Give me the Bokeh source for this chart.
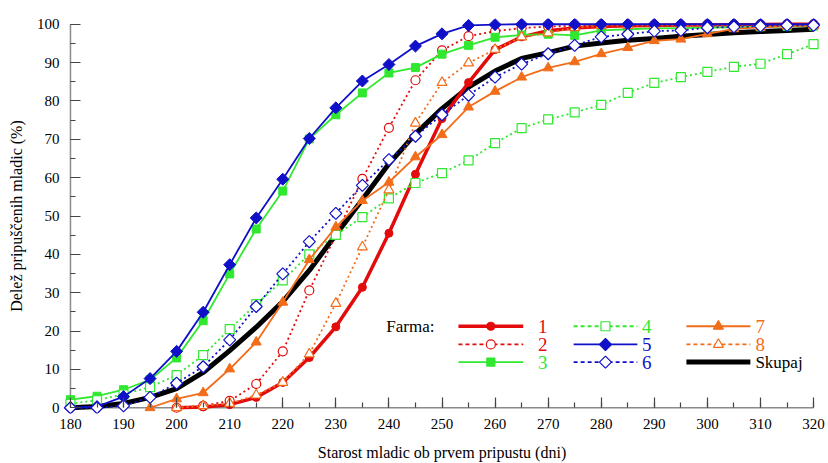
import math
from bokeh.plotting import figure
from bokeh.models import Range1d, FixedTicker, Label
from bokeh.embed import file_html
from bokeh.resources import INLINE

nan = float("nan")

days = [180, 185, 190, 195, 200, 205, 210, 215, 220, 225, 230, 235, 240, 245, 250,
        255, 260, 265, 270, 275, 280, 285, 290, 295, 300, 305, 310, 315, 320]

farm1 = [nan, nan, nan, nan, 0.0, 0.2, 0.8, 2.7, 6.6, 13.1, 21.1, 31.4, 45.5, 60.9, 75.4,
         84.8, 93.4, 96.7, 98.3, 99.0, 99.4, 99.6, 99.7, 99.8, 99.8, 99.9, 99.9, 100.0, 100.0]
farm2 = [nan, nan, nan, nan, 0.0, 0.5, 1.8, 6.2, 14.7, 30.6, 45.0, 59.7, 73.0, 85.4, 93.2,
         96.9, 98.2, 99.0, 99.4, 99.6, 99.7, 99.8, 99.8, 99.8, 99.9, 99.9, 99.9, 100.0, 100.0]
farm3 = [2.1, 3.0, 4.7, 7.3, 13.0, 22.7, 34.9, 46.6, 56.5, 70.1, 76.4, 82.1, 87.3, 88.7, 92.2,
         94.5, 96.6, 97.2, 97.4, 97.1, 98.4, 98.7, 98.9, 99.0, 99.1, 99.2, 99.3, 99.4, 99.5]
farm4 = [1.0, 2.0, 3.5, 5.4, 8.5, 13.7, 20.5, 27.0, 33.2, 40.0, 45.1, 49.7, 54.6, 58.6, 61.2,
         64.5, 69.0, 72.9, 75.2, 77.0, 79.0, 82.1, 84.7, 86.2, 87.6, 88.9, 89.7, 92.2, 94.8]
farm5 = [0.0, 0.3, 2.9, 7.6, 14.7, 24.9, 37.3, 49.5, 59.6, 70.2, 78.2, 85.2, 89.5, 94.3, 97.5,
         99.7, 99.9, 100.0, 100.0, 100.0, 100.0, 100.0, 100.0, 100.0, 100.0, 100.0, 100.0, 100.0, 100.0]
farm6 = [0.0, 0.0, 0.5, 2.7, 6.4, 10.7, 17.7, 26.4, 34.9, 43.3, 50.7, 58.0, 64.7, 70.8, 76.4,
         81.5, 86.2, 89.6, 92.3, 94.5, 96.7, 97.4, 98.2, 98.4, 99.1, 99.3, 99.5, 99.7, 99.7]
farm7 = [nan, nan, nan, 0.0, 2.3, 3.9, 10.1, 17.1, 27.5, 38.6, 47.1, 54.0, 58.8, 65.4, 71.2,
         78.4, 82.5, 86.2, 88.6, 90.2, 92.3, 93.9, 95.7, 96.1, 97.5, 98.8, 99.2, 99.5, 99.6]
farm8 = [nan, nan, nan, nan, 0.0, 0.5, 1.1, 3.3, 6.6, 14.0, 27.2, 41.9, 56.8, 74.2, 84.8,
         89.9, 93.4, 96.7, 97.7, 99.1, 99.7, 99.7, 99.7, 99.7, 99.8, 99.8, 99.8, 99.8, 99.8]
skupaj = [0.0, 0.3, 1.1, 2.7, 5.0, 9.2, 14.9, 21.0, 27.7, 35.8, 45.1, 54.3, 63.6, 71.4, 78.0,
          83.6, 87.8, 91.1, 92.6, 94.3, 95.1, 95.8, 96.3, 96.9, 97.3, 97.8, 98.1, 98.4, 98.7]

x_ticks = [180, 190, 200, 210, 220, 230, 240, 250, 260, 270, 280, 290, 300, 310, 320]
y_ticks = [0, 10, 20, 30, 40, 50, 60, 70, 80, 90, 100]
x_minor = days
y_minor = [0, 5, 10, 15, 20, 25, 30, 35, 40, 45, 50, 55, 60, 65, 70, 75, 80, 85, 90, 95, 100]

RED = "#e30b0b"
GREEN = "#2fe82f"
BLUE = "#1010c8"
ORANGE = "#f26d1a"
AXIS_GRAY = "#8a8a8a"
FONT = "Liberation Serif"
DIAMOND_ANGLE = math.pi / 4

p = figure(width=828, height=463, output_backend="svg", toolbar_location=None,
           x_range=Range1d(178.5, 321.5), y_range=Range1d(-1.5, 101.5),
           min_border_left=62, min_border_right=7, min_border_top=18, min_border_bottom=50)
p.outline_line_color = None
p.grid.visible = False
p.background_fill_color = "white"
p.border_fill_color = "white"

# Axes: lines drawn at the data origin, ticks shifted in from the padded frame edge
for ax in (p.xaxis[0], p.yaxis[0]):
    ax.axis_line_color = None
    ax.major_tick_line_color = "#444444"
    ax.minor_tick_line_color = "#444444"
    ax.major_tick_line_width = 1.2
    ax.minor_tick_line_width = 1.2
    ax.major_label_text_font = FONT
    ax.major_label_text_font_size = "15px"
    ax.major_label_text_color = "black"
    ax.axis_label_text_font = FONT
    ax.axis_label_text_font_size = "16px"
    ax.axis_label_text_font_style = "normal"
    ax.axis_label_text_color = "black"

p.xaxis.ticker = FixedTicker(ticks=x_ticks, minor_ticks=x_minor)
p.yaxis.ticker = FixedTicker(ticks=y_ticks, minor_ticks=y_minor)
p.xaxis.major_tick_in = 16
p.xaxis.major_tick_out = -6
p.xaxis.minor_tick_in = 11
p.xaxis.minor_tick_out = -6
p.yaxis.major_tick_in = 18
p.yaxis.major_tick_out = -8
p.yaxis.minor_tick_in = 13
p.yaxis.minor_tick_out = -8
p.xaxis.major_label_standoff = 11
p.yaxis.major_label_standoff = 11
p.xaxis.axis_label = "Starost mladic ob prvem pripustu (dni)"
p.yaxis.axis_label = "Delež pripuščenih mladic (%)"
p.xaxis.axis_label_standoff = 12
p.yaxis.axis_label_standoff = 9

p.line([x_ticks[0], x_ticks[-1]], [y_ticks[0], y_ticks[0]], line_color=AXIS_GRAY, line_width=1.5)
p.line([x_ticks[0], x_ticks[0]], [y_ticks[0], y_ticks[-1]], line_color=AXIS_GRAY, line_width=1.5)

DOT = "2 3"

# Skupaj
p.line(days, skupaj, line_color="black", line_width=5)
# Farm 1
p.line(days, farm1, line_color=RED, line_width=3.5)
p.scatter(days, farm1, marker="circle", size=8, fill_color=RED, line_color=RED)
# Farm 2
p.line(days, farm2, line_color=RED, line_width=1.8, line_dash=DOT)
p.scatter(days, farm2, marker="circle", size=9, fill_color="white", line_color=RED, line_width=1.2)
# Farm 3
p.line(days, farm3, line_color=GREEN, line_width=1.8)
p.scatter(days, farm3, marker="square", size=8, fill_color=GREEN, line_color=GREEN)
# Farm 4
p.line(days, farm4, line_color=GREEN, line_width=1.8, line_dash=DOT)
p.scatter(days, farm4, marker="square", size=9, fill_color="white", line_color=GREEN, line_width=1.2)
# Farm 7
p.line(days, farm7, line_color=ORANGE, line_width=1.8)
p.scatter(days, farm7, marker="triangle", size=10, fill_color=ORANGE, line_color=ORANGE)
# Farm 8
p.line(days, farm8, line_color=ORANGE, line_width=1.8, line_dash=DOT)
p.scatter(days, farm8, marker="triangle", size=10, fill_color="white", line_color=ORANGE, line_width=1.2)
# Farm 5
p.line(days, farm5, line_color=BLUE, line_width=1.8)
p.scatter(days, farm5, marker="square", angle=DIAMOND_ANGLE, size=8.5, fill_color=BLUE, line_color=BLUE)
# Farm 6
p.line(days, farm6, line_color=BLUE, line_width=1.8, line_dash=DOT)
p.scatter(days, farm6, marker="square", angle=DIAMOND_ANGLE, size=8.5, fill_color="white",
          line_color=BLUE, line_width=1.2)

# Legend (manual, three columns with coloured labels)
leg_rows = [21.25, 16.5, 11.9]
leg_cols = [(253.1, 265.3, 268.1), (274.8, 286.8, 287.7), (296.05, 308.1, 309.05)]
leg_items = [
    ("1", RED, 3.5, None, "circle", 0, RED, 8),
    ("2", RED, 1.8, "4 3", "circle", 0, "white", 9),
    ("3", GREEN, 1.8, None, "square", 0, GREEN, 8),
    ("4", GREEN, 1.8, "4 3", "square", 0, "white", 9),
    ("5", BLUE, 1.8, None, "square", DIAMOND_ANGLE, BLUE, 8.5),
    ("6", BLUE, 1.8, "4 3", "square", DIAMOND_ANGLE, "white", 8.5),
    ("7", ORANGE, 1.8, None, "triangle", 0, ORANGE, 10),
    ("8", ORANGE, 1.8, "4 3", "triangle", 0, "white", 10),
    ("Skupaj", "black", 5, None, None, 0, None, 0),
]
for i, (lab, col, lw, dash, mk, ang, fill, sz) in enumerate(leg_items):
    c = i // 3
    r = i % 3
    x0, x1, xt = leg_cols[c]
    y = leg_rows[r]
    kw = {}
    if dash:
        kw["line_dash"] = dash
    p.line([x0, x1], [y, y], line_color=col, line_width=lw, **kw)
    if mk:
        p.scatter([(x0 + x1) / 2], [y], marker=mk, angle=ang, size=sz, fill_color=fill,
                  line_color=col, line_width=1.2)
    is_num = lab != "Skupaj"
    p.add_layout(Label(x=xt, y=y, text=lab, text_align="left", text_baseline="middle",
                       text_font=FONT, text_font_size="19px" if is_num else "17px",
                       text_color=col if is_num else "black"))
p.add_layout(Label(x=239.5, y=leg_rows[0], text="Farma:", text_align="left",
                   text_baseline="middle", text_font=FONT, text_font_size="17px",
                   text_color="black"))

open("out.html", "w").write(file_html(p, INLINE))
